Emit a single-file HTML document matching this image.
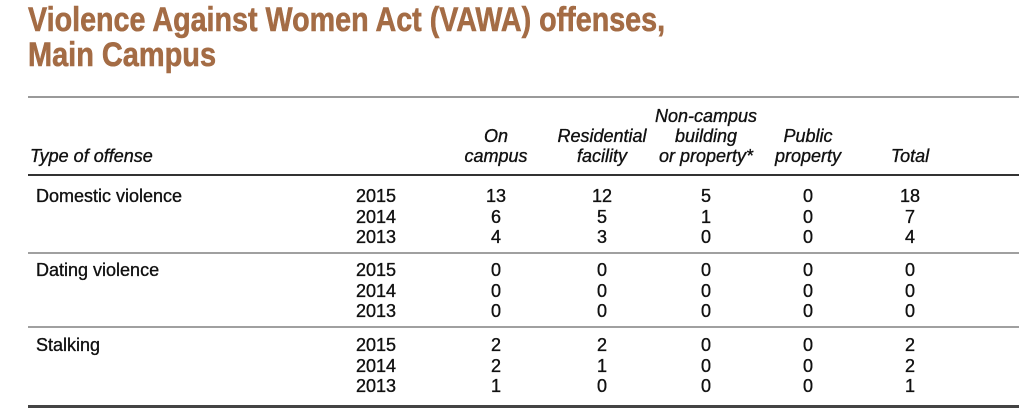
<!DOCTYPE html>
<html><head><meta charset="utf-8">
<style>
html,body{margin:0;padding:0;background:#fff;}
#root{position:relative;width:1024px;height:418px;overflow:hidden;font-family:"Liberation Sans Narrow","Liberation Sans",sans-serif;color:#111;}
.t{position:absolute;white-space:nowrap;font-size:18px;line-height:20px;-webkit-text-stroke:0.35px #111;}
.c{transform:translateX(-50%);}
.l{}
.i{font-style:italic;}
.title{position:absolute;left:28px;white-space:nowrap;font-family:"Liberation Sans Narrow","Liberation Sans",sans-serif;font-weight:bold;font-size:34px;color:#a46c45;-webkit-text-stroke:0.6px #a46c45;transform-origin:left;}
.rule{position:absolute;left:28px;width:991px;}
</style></head><body>
<div id="root">
<div class="title" id="t1" style="top:1px">Violence Against Women Act (VAWA) offenses,</div>
<div class="title" id="t2" style="top:36px">Main Campus</div>
<div class="rule" style="top:96px;height:2px;background:#9a9a9a"></div>
<div class="rule" style="top:174px;height:2px;background:#333"></div>
<div class="rule" style="top:252px;height:2px;background:#a0a0a0"></div>
<div class="rule" style="top:326px;height:2px;background:#a0a0a0"></div>
<div class="rule" style="top:405px;height:3px;background:#444"></div>
<div class="t l i" style="left:30px;top:146px">Type of offense</div>
</div>
<script>
var columns=[["On","campus"],["Residential","facility"],["Non-campus","building","or property*"],["Public","property"],["Total"]];
var offenses=["Domestic violence","Dating violence","Stalking"];
var years=["2015","2014","2013"];
var values=[
 [[13,12,5,0,18],[6,5,1,0,7],[4,3,0,0,4]],
 [[0,0,0,0,0],[0,0,0,0,0],[0,0,0,0,0]],
 [[2,2,0,0,2],[2,1,0,0,2],[1,0,0,0,1]]
];
var root=document.getElementById('root');
var colX=[496,602,706,808,910];
var yearX=376;
var groupTop=[186,260,335];
var rowH=20.5;
function mk(cls,txt,x,y){var d=document.createElement('div');d.className='t '+cls;d.textContent=txt;d.style.left=x+'px';d.style.top=y+'px';root.appendChild(d);return d;}
columns.forEach(function(lines,ci){
  var n=lines.length;
  lines.forEach(function(s,li){
    var d=mk('c i',s,colX[ci],146-(n-1-li)*20);
    
    
  });
});
offenses.forEach(function(o,gi){
  var d=mk('l',o,36,groupTop[gi]);
  
  
  years.forEach(function(y,ri){
    var yy=groupTop[gi]+ri*rowH;
    var e=mk('c',y,yearX,yy);
    
    
    values[gi][ri].forEach(function(v,ci){
      var c=mk('c',String(v),colX[ci],yy);
      
      
    });
  });
});
function fit(id,w){var el=document.getElementById(id);var r=el.scrollWidth;el.style.transform='scaleX('+(w/r)+')';}
fit('t1',637);fit('t2',188);
</script>
</body></html>
